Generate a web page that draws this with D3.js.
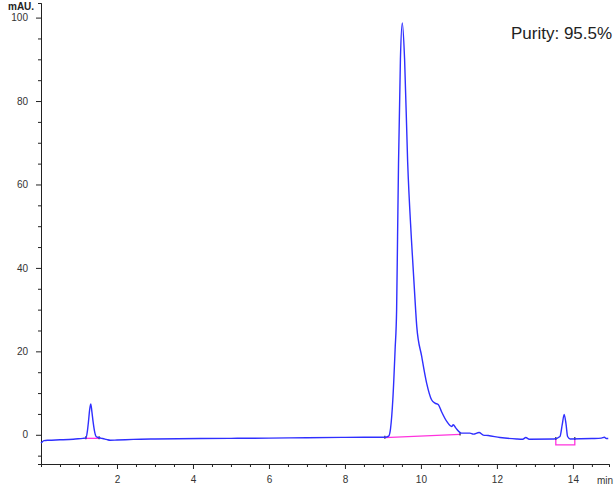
<!DOCTYPE html>
<html>
<head>
<meta charset="utf-8">
<script src="https://cdn.jsdelivr.net/npm/d3@7"></script>
<style>
    body { margin: 0; background: #fff; }
    text { font-family: "Liberation Sans", Arial, sans-serif; }
</style>
</head>
<body>
<div id="chart"></div>
<script>
// chromatogram trace (time in min, signal in mAU)
const traceTime = [0.00, 0.03, 0.08, 0.20, 0.50, 0.85, 1.10, 1.18, 1.22, 1.25, 1.28, 1.31, 1.34, 1.37, 1.41, 1.45,
    1.53, 1.62, 1.72, 1.82, 2.00, 2.43, 3.00, 4.20, 5.00, 6.00, 7.00, 8.00, 8.50, 8.90, 9.05, 9.15, 9.20,
    9.26, 9.32, 9.36, 9.385, 9.41, 9.46, 9.51, 9.57, 9.65, 9.75, 9.86, 9.89, 10.02, 10.15, 10.28, 10.37, 10.46, 10.54,
    10.68, 10.81, 10.85, 10.92, 11.07, 11.29, 11.38, 11.53, 11.64, 11.77, 12.08, 12.52, 12.68, 12.76, 12.85,
    13.50, 13.66, 13.72, 13.77, 13.82, 13.86, 13.93, 14.50, 14.75, 14.83, 14.88, 14.93];
const traceMAU = [-2.0, -1.7, -1.4, -1.3, -1.2, -1.05, -0.85, -0.8, 0.8, 3.2, 6.0, 7.4, 5.5, 3.2, 0.8, -0.4,
    -0.7, -0.9, -1.1, -1.3, -1.25, -1.1, -1.0, -0.9, -0.85, -0.8, -0.7, -0.62, -0.58, -0.6, -0.6, -0.3, 1.5,
    8.4, 20.4, 30.0, 47.5, 65.0, 90.0, 98.7, 90.0, 65.5, 46.8, 30.0, 26.0, 18.8, 12.4, 8.4, 7.6, 7.2, 5.6,
    3.2, 2.0, 2.4, 1.6, 0.4, 0.4, 0.17, 0.55, -0.07, -0.17, -0.65, -1.0, -1.05, -0.65, -1.05,
    -1.0, -0.4, 2.5, 4.9, 2.5, -0.4, -1.0, -0.9, -0.8, -0.6, -0.9, -0.9];

// integration baselines (pink)
const baseTime = [[1.18, 1.53], [9.05, 11.03], [13.55, 13.55, 14.05, 14.05]];
const baseMAU = [[-0.85, -0.85], [-0.7, 0.1], [-1.0, -2.4, -2.4, -1.0]];

// axis ticks
const xMajor = [2, 4, 6, 8, 10, 12, 14];
const xMinor = d3.range(0.5, 15, 0.5).filter(v => v % 2 !== 0);
const yMajor = [0, 20, 40, 60, 80, 100];
const yMinor = d3.range(-5, 101, 5).filter(v => v % 20 !== 0);

const purityLabel = "Purity: 95.5%";

const width = 616, height = 486;

const svg = d3.select("#chart").append("svg")
    .attr("width", width)
    .attr("height", height);

const x = d3.scaleLinear().domain([0, 14.95]).range([41, 609]);
const y = d3.scaleLinear().domain([-7, 103.5]).range([464, 3]);

// minor ticks first, major ticks with labels on top
svg.append("g")
    .attr("transform", "translate(0,464)")
    .call(d3.axisBottom(x).tickValues(xMinor).tickSize(3).tickFormat(""));

const xAxis = svg.append("g")
    .attr("transform", "translate(0,464)")
    .call(d3.axisBottom(x).tickValues(xMajor).tickSize(5).tickPadding(7).tickSizeOuter(0));

svg.append("g")
    .attr("transform", "translate(41,0)")
    .call(d3.axisLeft(y).tickValues(yMinor).tickSize(3).tickFormat(""));

const yAxis = svg.append("g")
    .attr("transform", "translate(41,0)")
    .call(d3.axisLeft(y).tickValues(yMajor).tickSize(5).tickPadding(8).tickSizeOuter(0));

svg.selectAll(".domain").attr("stroke", "#222");
svg.selectAll(".tick line").attr("stroke", "#222");
svg.selectAll(".tick text")
    .attr("fill", "#333")
    .style("font-size", "10px");

svg.append("text")
    .attr("x", 8)
    .attr("y", 10)
    .attr("fill", "#222")
    .style("font-size", "10px")
    .style("font-weight", "bold")
    .text("mAU.");

svg.append("text")
    .attr("x", 597)
    .attr("y", 484)
    .attr("fill", "#333")
    .style("font-size", "10px")
    .text("min");

// integration baselines
const baseLine = d3.line()
    .x(d => x(d[0]))
    .y(d => y(d[1]));

baseTime.forEach((ts, i) => {
    const pts = ts.map((t, j) => [t, baseMAU[i][j]]);
    svg.append("path")
        .datum(pts)
        .attr("fill", "none")
        .attr("stroke", "#ff33dd")
        .attr("stroke-width", 1.3)
        .attr("d", baseLine);
    // small dark markers at start / end of each integration
    [pts[0], pts[pts.length - 1]].forEach(p => {
        svg.append("line")
            .attr("x1", x(p[0])).attr("x2", x(p[0]))
            .attr("y1", y(p[1]) - 2).attr("y2", y(p[1]) + 1)
            .attr("stroke", "#333")
            .attr("stroke-width", 1.2);
    });
});

// the trace
const trace = traceTime.map((t, i) => [t, traceMAU[i]]);

svg.append("path")
    .datum(trace)
    .attr("fill", "none")
    .attr("stroke", "#2f2fff")
    .attr("stroke-width", 1.4)
    .attr("d", d3.line()
        .x(d => x(d[0]))
        .y(d => y(d[1]))
        .curve(d3.curveMonotoneX));

svg.append("text")
    .attr("x", 511)
    .attr("y", 39)
    .attr("fill", "#222")
    .style("font-size", "17px")
    .text(purityLabel);
</script>
</body>
</html>
